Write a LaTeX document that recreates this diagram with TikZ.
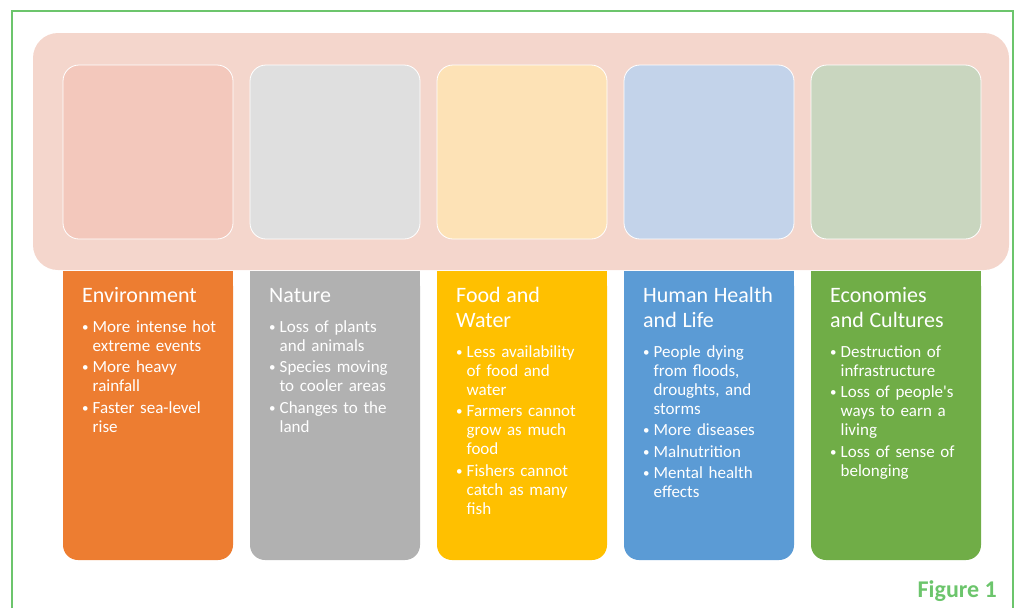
\documentclass[tikz,border=0pt]{standalone}
\usepackage{fontspec}
\setmainfont{Carlito}[Ligatures=TeXOff]
\usepackage{tikz}
\usetikzlibrary{positioning}

\definecolor{framegreen}{HTML}{6CC56C}
\definecolor{panelpink}{HTML}{F4D6CC}
\definecolor{envorange}{HTML}{ED7D31}
\definecolor{envtint}{HTML}{F3C8BC}
\definecolor{natgray}{HTML}{B1B1B1}
\definecolor{nattint}{HTML}{DFDFDF}
\definecolor{foodyellow}{HTML}{FFC000}
\definecolor{foodtint}{HTML}{FDE2B6}
\definecolor{healthblue}{HTML}{5B9BD5}
\definecolor{healthtint}{HTML}{C3D3EA}
\definecolor{econgreen}{HTML}{70AD47}
\definecolor{econtint}{HTML}{C9D6BF}

\newcommand{\impacthead}[1]{{\fontsize{22}{25}\selectfont #1\par}\vspace{11pt}}
\newcommand{\impactitem}[1]{\par\hangindent=10.5pt\hangafter=1\noindent
  \makebox[10.5pt][l]{\raisebox{1pt}{\fontsize{13}{13}\selectfont\textbullet}}#1\par\vspace{2.5pt}}

\tikzset{
  tile/.style={draw=white, line width=0.8pt, rounded corners=16pt,
    minimum width=170pt, minimum height=174pt, inner sep=0pt, outer sep=0pt},
  impactbox/.style={rounded corners=15pt, minimum width=170pt,
    minimum height=289pt, inner sep=0pt, outer sep=0pt},
  impacttext/.style={anchor=base west, inner sep=0pt, text width=148pt,
    align=left, text=white, font=\fontsize{17}{19}\selectfont},
}

\begin{document}
\begin{tikzpicture}[x=1pt, y=-1pt]
\useasboundingbox (0,0) rectangle (1019,608);
\draw[framegreen, line width=2pt] (12,608) -- (12,11) -- (1013,11) -- (1013,608);
\fill[panelpink, rounded corners=25pt] (33,33) rectangle (1009,270);
%----------------------------------
\node[tile, fill=envtint] (envtile) at (148,152) {};
\node[tile, fill=nattint, right=17pt of envtile] (nattile) {};
\node[tile, fill=foodtint, right=17pt of nattile] (foodtile) {};
\node[tile, fill=healthtint, right=17pt of foodtile] (healthtile) {};
\node[tile, fill=econtint, right=17pt of healthtile] (econtile) {};
%----------------------------------
\node[impactbox, fill=envorange, below=32pt of envtile] (envbox) {};
\node[impactbox, fill=natgray, below=32pt of nattile] (natbox) {};
\node[impactbox, fill=foodyellow, below=32pt of foodtile] (foodbox) {};
\node[impactbox, fill=healthblue, below=32pt of healthtile] (healthbox) {};
\node[impactbox, fill=econgreen, below=32pt of econtile] (econbox) {};
\fill[envorange] (envbox.north west) rectangle ([yshift=-30pt]envbox.north east);
\fill[natgray] (natbox.north west) rectangle ([yshift=-30pt]natbox.north east);
\fill[foodyellow] (foodbox.north west) rectangle ([yshift=-30pt]foodbox.north east);
\fill[healthblue] (healthbox.north west) rectangle ([yshift=-30pt]healthbox.north east);
\fill[econgreen] (econbox.north west) rectangle ([yshift=-30pt]econbox.north east);
%---------------------------------
\node[impacttext] (envtext) at ([xshift=19pt,yshift=-31pt]envbox.north west) {%
  \impacthead{Environment}
  \impactitem{More intense hot\newline extreme events}
  \impactitem{More heavy\newline rainfall}
  \impactitem{Faster sea-level\newline rise}};
\node[impacttext] (nattext) at ([xshift=19pt,yshift=-31pt]natbox.north west) {%
  \impacthead{Nature}
  \impactitem{Loss of plants\newline and animals}
  \impactitem{Species moving\newline to cooler areas}
  \impactitem{Changes to the\newline land}};
\node[impacttext] (foodtext) at ([xshift=19pt,yshift=-31pt]foodbox.north west) {%
  \impacthead{Food and\\Water}
  \impactitem{Less availability\newline of food and\newline water}
  \impactitem{Farmers cannot\newline grow as much\newline food}
  \impactitem{Fishers cannot\newline catch as many\newline fish}};
\node[impacttext] (healthtext) at ([xshift=19pt,yshift=-31pt]healthbox.north west) {%
  \impacthead{Human Health\\and Life}
  \impactitem{People dying\newline from floods,\newline droughts, and\newline storms}
  \impactitem{More diseases}
  \impactitem{Malnutrition}
  \impactitem{Mental health\newline effects}};
\node[impacttext] (econtext) at ([xshift=19pt,yshift=-31pt]econbox.north west) {%
  \impacthead{Economies\\and Cultures}
  \impactitem{Destruction of\newline infrastructure}
  \impactitem{Loss of people's\newline ways to earn a\newline living}
  \impactitem{Loss of sense of\newline belonging}};
%---------------------------------
\node[anchor=base east, inner sep=0pt, text=framegreen,
  font=\fontsize{24}{24}\selectfont\bfseries] (figlabel) at (997,597) {Figure 1};
\end{tikzpicture}
\end{document}
